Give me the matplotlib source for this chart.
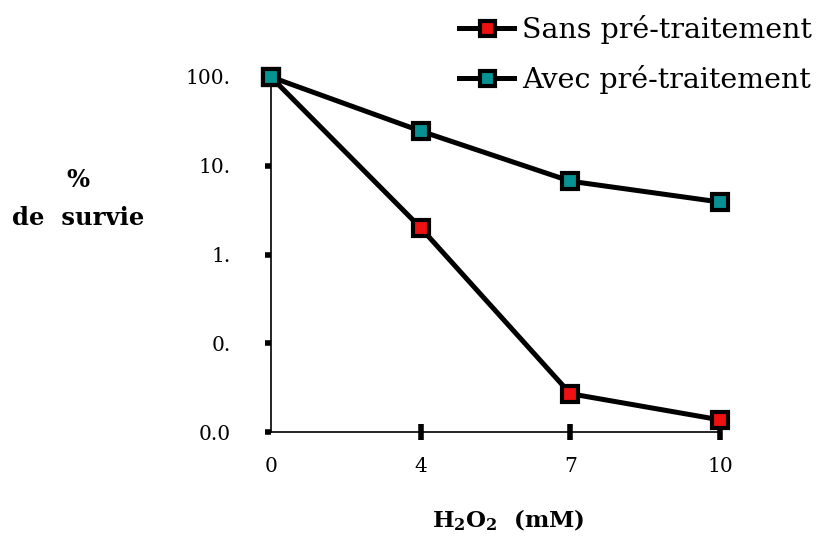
import numpy as np
import matplotlib.pyplot as plt
from matplotlib.ticker import FixedLocator, FixedFormatter, NullLocator

# donnees
doses = ["0", "4", "7", "10"]
sans_pre = [100.0, 2.0, 0.027, 0.0137]
avec_pre = [100.0, 24.6, 6.7, 3.9]
ytick_vals = [0.01, 0.1, 1, 10, 100]
ytick_labels = ["0.0", "0.", "1.", "10.", "100."]

plt.rcParams['font.family'] = ['DejaVu Serif']
plt.rcParams['mathtext.fontset'] = 'dejavuserif'

fig = plt.figure(figsize=(8.24, 5.41), dpi=100)
ax = fig.add_axes([271 / 824, 1 - 432 / 541, 449 / 824, 355 / 541])

x = np.arange(len(doses))
ax.plot(x, sans_pre, color='black', lw=3.6, marker='s', ms=12,
        mfc='#ee1111', mec='black', mew=3, label='Sans pré-traitement',
        clip_on=False, zorder=3)
ax.plot(x, avec_pre, color='black', lw=3.6, marker='s', ms=12,
        mfc='#079393', mec='black', mew=3, label='Avec pré-traitement',
        clip_on=False, zorder=3)

ax.set_yscale('log')
ax.set_ylim(0.01, 100)
ax.set_xlim(0, 3)
ax.yaxis.set_major_locator(FixedLocator(ytick_vals))
ax.yaxis.set_major_formatter(FixedFormatter(ytick_labels))
ax.yaxis.set_minor_locator(NullLocator())
ax.set_xticks(x)
ax.set_xticklabels(doses)
ax.xaxis.get_major_ticks()[0].tick1line.set_visible(False)

for s in ['top', 'right']:
    ax.spines[s].set_visible(False)
ax.spines['left'].set_linewidth(1.2)
ax.spines['bottom'].set_linewidth(1.2)
ax.tick_params(axis='y', direction='out', length=4, width=4, labelsize=14.5, pad=25)
ax.tick_params(axis='x', direction='inout', length=12, width=4, labelsize=14.5, pad=12)

fig.text(508 / 824, 1 - 520 / 541, r'$\mathbf{H_2O_2}$  (mM)', ha='center', va='center',
         fontsize=16.5, fontweight='bold')
fig.text(78 / 824, 1 - 199 / 541, '%\nde  survie', ha='center', va='center',
         fontsize=17.5, fontweight='bold', linespacing=1.75)

fig.legend(loc='upper right', bbox_to_anchor=(1.0165, 1.02), frameon=False,
           fontsize=20.5, handlelength=1.9, handletextpad=0.3, labelspacing=0.75,
           markerscale=0.9)

plt.savefig('out.png', dpi=100)
